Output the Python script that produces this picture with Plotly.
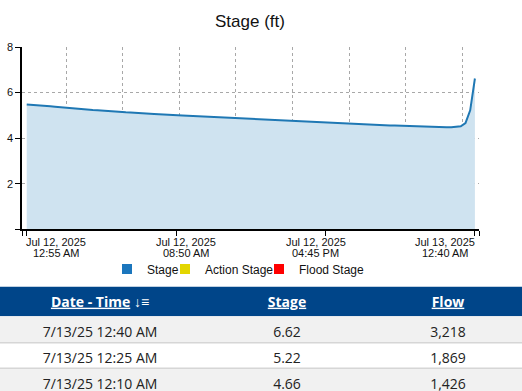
import plotly.graph_objects as go
import pandas as pd

# ---- data ----
start_time = "2025-07-12 00:55"
interval = "15min"
stage_values = [
    5.48, 5.47, 5.45, 5.43, 5.41, 5.40, 5.38, 5.36, 5.33,
    5.32, 5.30, 5.29, 5.27, 5.26, 5.24, 5.23, 5.21, 5.20, 5.18, 5.17, 5.15,
    5.14, 5.13, 5.11, 5.10, 5.09, 5.07, 5.06, 5.05, 5.03, 5.02, 5.01, 5.00,
    4.99, 4.98, 4.97, 4.96, 4.95, 4.94, 4.93, 4.92, 4.90, 4.89, 4.88, 4.87,
    4.86, 4.85, 4.84, 4.83, 4.82, 4.81, 4.80, 4.79, 4.78, 4.77, 4.76, 4.75,
    4.74, 4.73, 4.72, 4.71, 4.70, 4.69, 4.68, 4.67, 4.66, 4.65, 4.64, 4.62,
    4.62, 4.61, 4.60, 4.60, 4.59, 4.58, 4.58, 4.57, 4.56, 4.56, 4.55, 4.54,
    4.54, 4.53, 4.52, 4.52, 4.51, 4.50, 4.49, 4.49, 4.48, 4.48, 4.49, 4.52,
    4.66, 5.22, 6.62,
]
times = pd.date_range(start_time, periods=len(stage_values), freq=interval)

tick_times = ["2025-07-12 00:55", "2025-07-12 08:50", "2025-07-12 16:45", "2025-07-13 00:40"]
tick_dates = ["Jul 12, 2025", "Jul 12, 2025", "Jul 12, 2025", "Jul 13, 2025"]
tick_clock = ["12:55 AM", "08:50 AM", "04:45 PM", "12:40 AM"]
x_range = ["2025-07-12 00:40", "2025-07-13 00:53"]
y_ticks = [0, 2, 4, 6, 8]
y_tick_text = ["", "2", "4", "6", "8"]

legend_names = ["Stage", "Action Stage", "Flood Stage"]
legend_colors = ["#1b76bd", "#e3d600", "#ff0000"]

table_times = ["7/13/25 12:40 AM", "7/13/25 12:25 AM", "7/13/25 12:10 AM"]
table_stage = ["6.62", "5.22", "4.66"]
table_flow = ["3,218", "1,869", "1,426"]

# ---- layout constants ----
W, H = 522, 391
def py(p):
    return 1 - p / H

plot_x = [22 / W, 479 / W]
plot_y = [py(226.7), py(41.7)]
grid_col = "#a8a8a8"
axis_font = dict(family="Liberation Sans, Arial, sans-serif", size=11, color="#111")
leg_font = dict(family="Liberation Sans, Arial, sans-serif", size=12, color="#111")

fig = go.Figure()
fig.add_trace(go.Scatter(
    x=times, y=stage_values, mode="lines",
    line=dict(color="#1f78b4", width=2),
    fill="tozeroy", fillcolor="#cfe3f0",
    showlegend=False, hoverinfo="x+y",
))
legend_ids = ["legend", "legend2", "legend3"]
for name, col, lid in zip(legend_names, legend_colors, legend_ids):
    fig.add_trace(go.Scatter(
        x=[None], y=[None], mode="markers", name=name, legend=lid,
        marker=dict(symbol="square", size=10, color=col),
    ))

# table bands (header + alternating rows)
bands = [(285, 315, "#004589"), (315, 342, "#f1f1f1"), (342, 368, "#ffffff"), (368, 392, "#f1f1f1")]
for y0, y1, col in bands:
    fig.add_shape(type="rect", xref="paper", yref="paper", x0=0, x1=1,
                  y0=py(y1), y1=py(y0), fillcolor=col, line=dict(width=0), layer="below")
for yy in [342, 368]:
    fig.add_shape(type="line", xref="paper", yref="paper", x0=0, x1=1,
                  y0=py(yy), y1=py(yy), line=dict(color="#d6d6d6", width=1.5), layer="below")

fig.add_trace(go.Table(
    domain=dict(x=[0, 1], y=[0, py(282)]),
    columnwidth=[200, 174, 148],
    header=dict(
        values=["<b><u>Date - Time</u> ↓≡</b>", "<b><u>Stage</u></b>", "<b><u>Flow</u></b>"],
        fill_color="rgba(0,0,0,0)", line=dict(width=0, color="rgba(0,0,0,0)"),
        font=dict(family="Open Sans, Noto Sans, sans-serif", size=14, color="white"),
        align="center", height=29,
    ),
    cells=dict(
        values=[table_times, table_stage, table_flow],
        fill_color="rgba(0,0,0,0)",
        line=dict(width=0, color="rgba(0,0,0,0)"),
        font=dict(family="Open Sans, Noto Sans, sans-serif", size=14, color="#222"),
        align="center", height=26,
    ),
))

fracs = [0, 1 / 3, 2 / 3, 1]
lbl_w = 59.3
for t, d, c, f in zip(tick_times, tick_dates, tick_clock, fracs):
    shift = (0.5 - f) * lbl_w
    fig.add_annotation(x=t, xref="x", y=plot_y[0], yref="paper", text=d, showarrow=False,
                       xanchor="center", yanchor="middle", xshift=shift, yshift=-12.5,
                       font=axis_font)
    fig.add_annotation(x=t, xref="x", y=plot_y[0], yref="paper", text=c, showarrow=False,
                       xanchor="center", yanchor="middle", xshift=shift, yshift=-23.5,
                       font=axis_font)

leg_common = dict(orientation="h", xanchor="left", y=py(267), yanchor="middle",
                  font=leg_font, itemwidth=30, bgcolor="rgba(0,0,0,0)")
leg_text_x = [147, 205, 299]

fig.update_layout(
    width=W, height=H,
    margin=dict(l=0, r=0, t=0, b=0),
    paper_bgcolor="white", plot_bgcolor="white",
    title=dict(text="Stage (ft)", x=250 / W, xanchor="center", y=py(15), yanchor="middle",
               yref="paper", xref="paper",
               font=dict(family="Liberation Sans, Arial, sans-serif", size=17, color="#111")),
    xaxis=dict(
        domain=plot_x, type="date", range=x_range,
        tickmode="array", tickvals=[x_range[0]] + tick_times + [x_range[1]],
        showticklabels=False, ticks="outside", ticklen=5, tickcolor="#000",
        showline=True, linecolor="#000", linewidth=1.5,
        showgrid=False, zeroline=False,
        minor=dict(dtick=3 * 3600 * 1000, tick0="2025-07-12 00:00", showgrid=True,
                   gridcolor=grid_col, griddash="3px,3px", gridwidth=1, ticklen=0),
    ),
    yaxis=dict(
        domain=plot_y, range=[0, 8],
        tickmode="array", tickvals=y_ticks, ticktext=y_tick_text,
        ticks="outside", ticklen=5, tickcolor="#000",
        showline=True, linecolor="#000", linewidth=1.5,
        showgrid=True, gridcolor=grid_col, griddash="3px,3px", gridwidth=1,
        zeroline=False, tickfont=axis_font,
    ),
    legend=dict(x=(leg_text_x[0] - 40) / W, **leg_common),
    legend2=dict(x=(leg_text_x[1] - 40) / W, **leg_common),
    legend3=dict(x=(leg_text_x[2] - 40) / W, **leg_common),
    showlegend=True,
)

fig.write_html("out.html", config={"displayModeBar": False},
               post_script="document.body.style.margin='0';document.body.style.overflow='hidden';")
